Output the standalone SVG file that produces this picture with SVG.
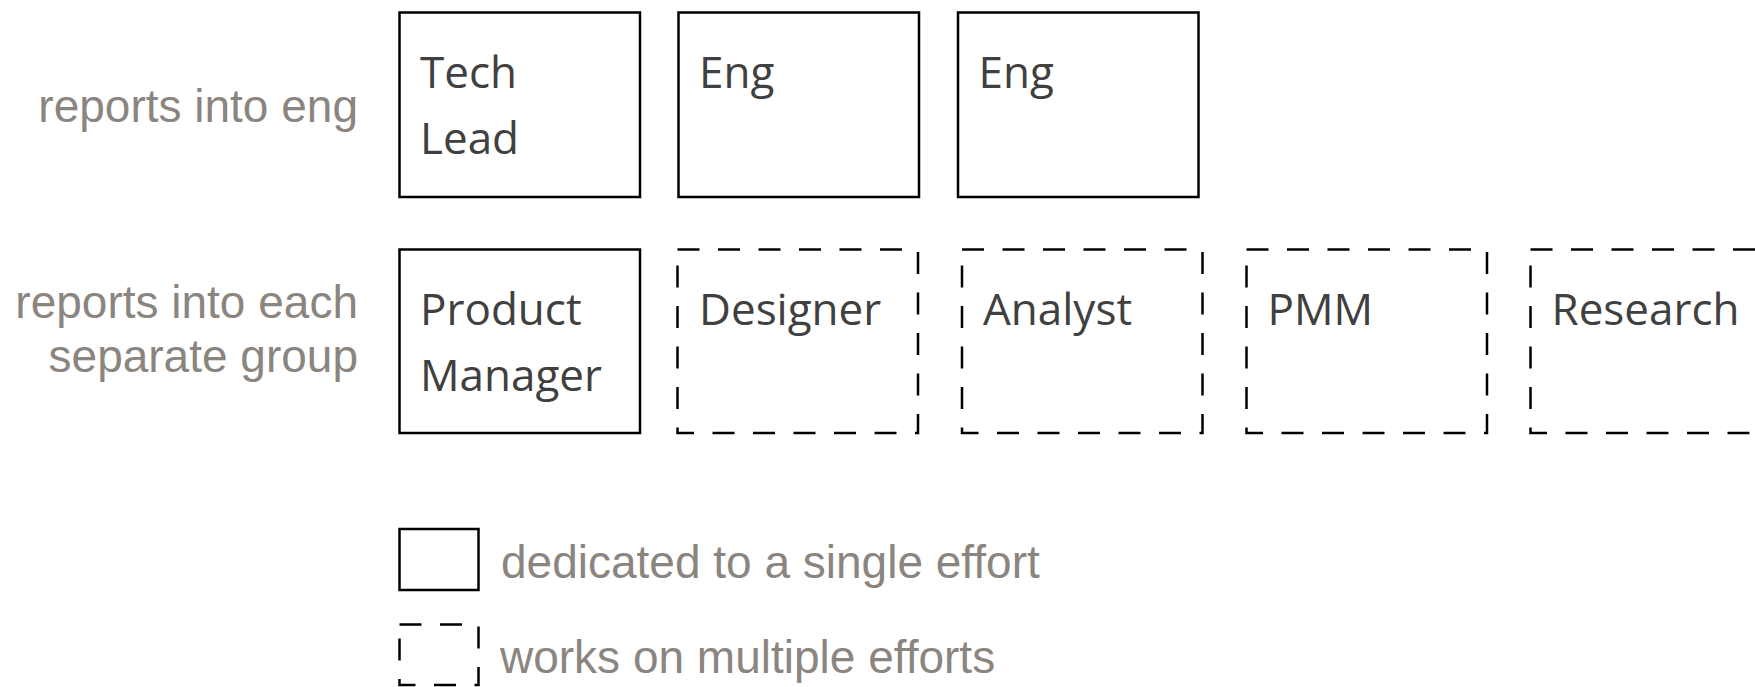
<svg xmlns="http://www.w3.org/2000/svg" width="1755" height="687" viewBox="0 0 1755 687">
<style>
.box{fill:#fff;stroke:#000;stroke-width:2.5}
.dash{stroke-dasharray:22 18.5}
.bt{font-family:"Open Sans","Noto Sans",sans-serif;font-size:44px;fill:#404040}
.lab{font-family:"Liberation Sans",Arial,sans-serif;font-size:46px;fill:#8b8580}
.r{text-anchor:end}
</style>
<rect width="1755" height="687" fill="#fff"/>
<g id="labels">
<text class="lab r" x="358" y="122">reports into eng</text>
<text class="lab r" x="358" y="318">reports into each</text>
<text class="lab r" x="358" y="372">separate group</text>
</g>
<g id="connectors"></g>
<g id="tech-lead">
<rect class="box" x="399.5" y="12.5" width="240.5" height="184.5"/>
<text class="bt" x="420" y="88">Tech</text>
<text class="bt" x="420" y="154">Lead</text>
</g>
<g id="eng-1">
<rect class="box" x="678.5" y="12.5" width="240.5" height="184.5"/>
<text class="bt" x="699" y="88">Eng</text>
</g>
<g id="eng-2">
<rect class="box" x="958" y="12.5" width="240.5" height="184.5"/>
<text class="bt" x="978.5" y="88">Eng</text>
</g>
<g id="product-manager">
<rect class="box" x="399.5" y="249.5" width="240.5" height="183.5"/>
<text class="bt" x="420" y="325">Product</text>
<text class="bt" x="420" y="391">Manager</text>
</g>
<g id="designer">
<rect class="box dash" x="677.5" y="249.5" width="240.5" height="183.5"/>
<text class="bt" x="699" y="325">Designer</text>
</g>
<g id="analyst">
<rect class="box dash" x="962" y="249.5" width="240.5" height="183.5"/>
<text class="bt" x="983" y="325">Analyst</text>
</g>
<g id="pmm">
<rect class="box dash" x="1246.5" y="249.5" width="240.5" height="183.5"/>
<text class="bt" x="1267.5" y="325">PMM</text>
</g>
<g id="research">
<rect class="box dash" x="1530.5" y="249.5" width="240.5" height="183.5"/>
<text class="bt" x="1551.5" y="325">Research</text>
</g>
<g id="legend-dedicated">
<rect class="box" x="399.5" y="529" width="79" height="61"/>
<text class="lab" x="501" y="578">dedicated to a single effort</text>
</g>
<g id="legend-multiple">
<rect class="box dash" x="399.5" y="624.5" width="79" height="60.5"/>
<text class="lab" x="500" y="673">works on multiple efforts</text>
</g>
</svg>
